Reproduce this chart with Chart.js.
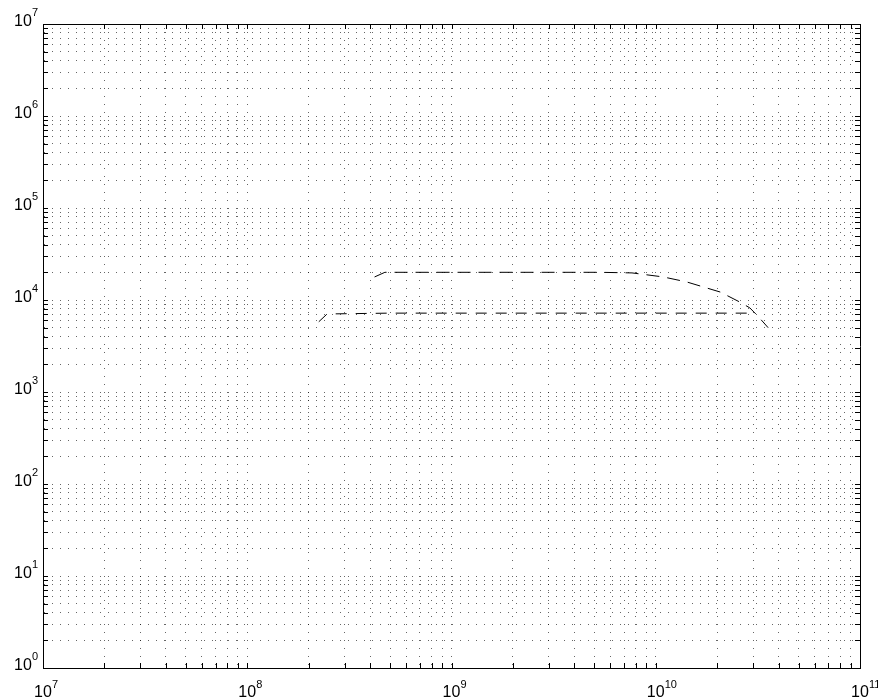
<!DOCTYPE html>
<html>
<head>
<meta charset="utf-8">
<script src="https://cdn.jsdelivr.net/npm/chart.js@4.4.0/dist/chart.umd.min.js"></script>
<style>
  html, body { margin: 0; padding: 0; background: #fff; }
  #wrap { width: 878px; height: 700px; }
</style>
</head>
<body>
<div id="wrap"><canvas id="myChart" width="878" height="700"></canvas></div>
<script>
// decades shown on each axis (labels are 10^n)
var xDecades = [7, 8, 9, 10, 11];
var yDecades = [0, 1, 2, 3, 4, 5, 6, 7];
var mantissas = [1, 2, 3, 4, 5, 6, 7, 8, 9];

// upper curve (long dashes)
var upperX = [4.2e8, 4.72e8, 1e9, 2e9, 5.33e9, 7.65e9, 1.09e10, 1.42e10, 2.07e10, 2.58e10, 2.89e10, 3.16e10, 3.55e10];
var upperY = [1.78e4, 2.0e4, 2.0e4, 2.0e4, 2.0e4, 1.97e4, 1.78e4, 1.57e4, 1.22e4, 9.5e3, 8.2e3, 6.7e3, 5.0e3];

// lower curve (shorter dashes)
var lowerX = [2.24e8, 2.46e8, 5e8, 1e9, 5e9, 1e10, 2.89e10];
var lowerY = [5.8e3, 7.05e3, 7.2e3, 7.2e3, 7.2e3, 7.2e3, 7.2e3];

function tickList(decades) {
  var out = [];
  for (var i = 0; i < decades.length; i++) {
    for (var m = 0; m < mantissas.length; m++) {
      if (i === decades.length - 1 && m > 0) break;
      out.push({ value: mantissas[m] * Math.pow(10, decades[i]), major: m === 0 });
    }
  }
  return out;
}

function points(xs, ys) {
  var pts = [];
  for (var i = 0; i < xs.length; i++) pts.push({ x: xs[i], y: ys[i] });
  return pts;
}

var FONT = '"Liberation Sans", Arial, Helvetica, sans-serif';

var matlabAxes = {
  id: 'matlabAxes',
  afterDraw: function (chart) {
    var ctx = chart.ctx;
    var a = chart.chartArea;
    var xs = chart.scales.x, ys = chart.scales.y;
    ctx.save();
    // box top + right
    ctx.strokeStyle = '#000';
    ctx.lineWidth = 1;
    ctx.beginPath();
    ctx.moveTo(Math.round(a.left) + 0.5, Math.round(a.top) + 0.5);
    ctx.lineTo(Math.round(a.right) + 0.5, Math.round(a.top) + 0.5);
    ctx.lineTo(Math.round(a.right) + 0.5, Math.round(a.bottom) + 0.5);
    ctx.lineTo(Math.round(a.left) + 0.5, Math.round(a.bottom) + 0.5);
    ctx.closePath();
    ctx.stroke();

    // inward ticks on all four sides
    var tl = 5;
    ctx.beginPath();
    tickList(xDecades).forEach(function (t) {
      var px = Math.round(xs.getPixelForValue(t.value)) + 0.5;
      ctx.moveTo(px, a.bottom); ctx.lineTo(px, a.bottom - tl);
      ctx.moveTo(px, a.top); ctx.lineTo(px, a.top + tl);
    });
    tickList(yDecades).forEach(function (t) {
      var py = Math.round(ys.getPixelForValue(t.value)) + 0.5;
      ctx.moveTo(a.left, py); ctx.lineTo(a.left + tl, py);
      ctx.moveTo(a.right, py); ctx.lineTo(a.right - tl, py);
    });
    ctx.stroke();

    // 10^n labels
    ctx.fillStyle = '#000';
    ctx.textBaseline = 'alphabetic';
    xDecades.forEach(function (d) {
      var px = xs.getPixelForValue(Math.pow(10, d));
      ctx.font = '16px ' + FONT;
      var w = ctx.measureText('10').width;
      ctx.textAlign = 'left';
      ctx.fillText('10', px - w / 2, a.bottom + 29);
      ctx.font = '11px ' + FONT;
      ctx.fillText(String(d), px + w / 2, a.bottom + 20);
    });
    yDecades.forEach(function (d) {
      var py = ys.getPixelForValue(Math.pow(10, d));
      ctx.font = '11px ' + FONT;
      var ew = ctx.measureText(String(d)).width;
      ctx.textAlign = 'right';
      ctx.fillText(String(d), a.left - 5, py - 8);
      ctx.font = '16px ' + FONT;
      ctx.fillText('10', a.left - 5 - ew, py + 2);
    });
    ctx.restore();
  }
};

function logScale(min, max, decades) {
  return {
    type: 'logarithmic',
    min: min,
    max: max,
    afterBuildTicks: function (scale) {
      scale.ticks = tickList(decades).map(function (t) { return { value: t.value }; });
    },
    ticks: { display: false },
    grid: {
      color: 'rgba(0,0,0,0.6)',
      lineWidth: 1,
      drawTicks: false
    },
    border: { display: true, color: '#000', width: 1, dash: [1, 7] }
  };
}

new Chart(document.getElementById('myChart').getContext('2d'), {
  type: 'line',
  data: {
    datasets: [
      {
        label: 'upper',
        data: points(upperX, upperY),
        borderColor: '#000',
        borderWidth: 1,
        borderDash: [13, 8],
        pointRadius: 0,
        fill: false,
        tension: 0
      },
      {
        label: 'lower',
        data: points(lowerX, lowerY),
        borderColor: '#000',
        borderWidth: 1,
        borderDash: [11, 9],
        pointRadius: 0,
        fill: false,
        tension: 0
      }
    ]
  },
  options: {
    responsive: false,
    animation: false,
    layout: { padding: { left: 43, top: 24, right: 18, bottom: 32 } },
    plugins: { legend: { display: false }, tooltip: { enabled: false } },
    scales: {
      x: logScale(1e7, 1e11, xDecades),
      y: logScale(1, 1e7, yDecades)
    }
  },
  plugins: [matlabAxes]
});
</script>
</body>
</html>
